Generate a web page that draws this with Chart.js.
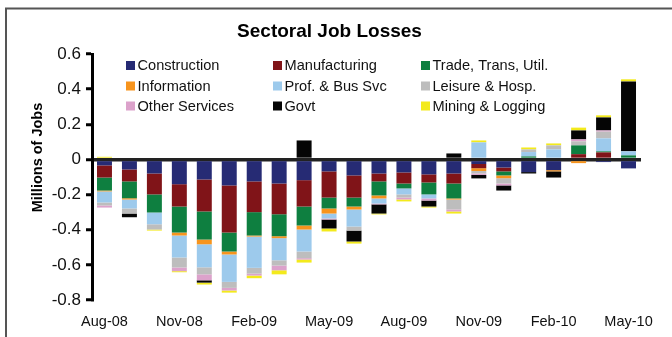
<!DOCTYPE html>
<html>
<head>
<meta charset="utf-8">
<script src="https://cdn.jsdelivr.net/npm/chart.js@4.4.1/dist/chart.umd.min.js"></script>
<style>
  html, body { margin: 0; padding: 0; background: #fff; }
  #wrap { position: relative; width: 672px; height: 337px; }
  canvas { display: block; }
</style>
</head>
<body>
<div id="wrap"><canvas id="c" width="672" height="337"></canvas></div>
<script>
// Monthly change in payroll employment by sector, millions of jobs
const months = ['Aug-08', 'Sep-08', 'Oct-08', 'Nov-08', 'Dec-08', 'Jan-09', 'Feb-09', 'Mar-09',
  'Apr-09', 'May-09', 'Jun-09', 'Jul-09', 'Aug-09', 'Sep-09', 'Oct-09', 'Nov-09', 'Dec-09',
  'Jan-10', 'Feb-10', 'Mar-10', 'Apr-10', 'May-10'];

const construction  = [-0.034, -0.057, -0.080, -0.141, -0.114, -0.148, -0.125, -0.137, -0.118, -0.068, -0.091, -0.080, -0.074, -0.085, -0.080, -0.026, -0.046, -0.072, -0.061, 0, -0.015, -0.051];
const manufacturing = [-0.069, -0.068, -0.119, -0.127, -0.182, -0.268, -0.175, -0.175, -0.150, -0.149, -0.126, -0.045, -0.063, -0.046, -0.057, -0.024, -0.022, 0, 0, 0.030, 0.040, 0];
const tradeTransUtil = [-0.074, -0.096, -0.103, -0.148, -0.160, -0.108, -0.133, -0.125, -0.108, -0.062, -0.051, -0.080, -0.028, -0.068, -0.085, 0, -0.023, 0.017, 0, 0.050, 0.006, 0.023];
const information   = [-0.005, -0.007, 0, -0.017, -0.027, -0.017, -0.006, -0.011, -0.023, -0.029, -0.017, -0.017, 0, 0, -0.006, -0.016, -0.016, 0, -0.007, -0.021, 0, 0];
const profBusSvc    = [-0.063, -0.051, -0.067, -0.125, -0.131, -0.156, -0.178, -0.126, -0.125, -0.028, -0.097, -0.029, -0.034, -0.023, 0, 0.097, 0, 0.025, 0.057, 0, 0.074, 0.023];
const leisureHosp   = [-0.017, -0.029, -0.030, -0.057, -0.040, -0.034, -0.033, -0.030, -0.038, 0, -0.023, 0, -0.018, 0, -0.057, -0.014, -0.030, 0.015, 0.023, 0.023, 0.038, 0];
const otherServices = [-0.012, 0, 0, -0.021, -0.034, -0.015, -0.011, -0.027, -0.008, -0.006, 0, -0.005, -0.011, -0.012, -0.011, -0.008, -0.011, 0, 0, 0.011, 0.007, 0];
const govt          = [0, -0.021, 0, 0, -0.013, 0, 0, 0, 0.108, -0.051, -0.062, -0.052, 0, -0.034, 0.034, -0.020, -0.029, -0.008, -0.035, 0.051, 0.074, 0.398];
const miningLogging = [0.015, 0, -0.006, -0.006, -0.011, -0.012, -0.015, -0.023, -0.017, -0.017, -0.012, -0.005, -0.011, -0.006, -0.012, 0.011, 0, 0.011, 0.011, 0.016, 0.012, 0.012];

const seriesNames = ['Construction', 'Manufacturing', 'Trade, Trans, Util.', 'Information',
  'Prof. & Bus Svc', 'Leisure & Hosp.', 'Other Services', 'Govt', 'Mining & Logging'];
const seriesData = [construction, manufacturing, tradeTransUtil, information,
  profBusSvc, leisureHosp, otherServices, govt, miningLogging];
const seriesColors = ['#262B74', '#801418', '#0E7F40', '#F7941D', '#9DCAEC',
  '#BDBDBD', '#DCA2CB', '#050505', '#F3EA1C'];

const yTicks = [-0.8, -0.6, -0.4, -0.2, 0, 0.2, 0.4, 0.6];

const FONT = '"Liberation Sans", Arial, Helvetica, sans-serif';

// Frame, title, axis title and three-column legend
const decorations = {
  id: 'decorations',
  beforeDraw(chart) {
    const ctx = chart.ctx;
    ctx.save();
    ctx.fillStyle = '#fff';
    ctx.fillRect(0, 0, chart.width, chart.height);
    ctx.strokeStyle = '#555';
    ctx.lineWidth = 2;
    ctx.beginPath();
    ctx.moveTo(6, chart.height);
    ctx.lineTo(6, 8.5);
    ctx.lineTo(chart.width, 8.5);
    ctx.stroke();
    ctx.restore();
  },
  afterDraw(chart) {
    const ctx = chart.ctx;
    ctx.save();
    ctx.fillStyle = '#000';
    ctx.font = 'bold 19px ' + FONT;
    ctx.textAlign = 'center';
    ctx.textBaseline = 'alphabetic';
    ctx.fillText('Sectoral Job Losses', 329.5, 36.5);

    ctx.save();
    ctx.translate(42, 157.5);
    ctx.rotate(-Math.PI / 2);
    ctx.font = 'bold 14.5px ' + FONT;
    ctx.fillText('Millions of Jobs', 0, 0);
    ctx.restore();

    const colX = [126, 273, 421];
    const rowY = [65.5, 86, 106];
    ctx.font = '14.6px ' + FONT;
    ctx.textAlign = 'left';
    ctx.textBaseline = 'middle';
    chart.data.datasets.forEach((ds, i) => {
      const x = colX[i % 3];
      const y = rowY[Math.floor(i / 3)];
      ctx.fillStyle = ds.backgroundColor;
      ctx.fillRect(x, y - 4.5, 9, 9);
      ctx.fillStyle = '#111';
      ctx.fillText(ds.label, x + 11.5, y + 0.5);
    });
    ctx.restore();
  }
};

new Chart(document.getElementById('c'), {
  type: 'bar',
  data: {
    labels: months,
    datasets: seriesNames.map((name, i) => ({
      label: name,
      data: seriesData[i],
      backgroundColor: seriesColors[i],
      borderWidth: 0,
      barPercentage: 0.6,
      categoryPercentage: 1.0
    }))
  },
  options: {
    responsive: false,
    devicePixelRatio: 1,
    animation: false,
    layout: { padding: { top: 54, right: 31, bottom: 0, left: 0 } },
    plugins: {
      legend: { display: false },
      title: { display: false },
      tooltip: { enabled: false }
    },
    scales: {
      x: {
        stacked: true,
        grid: { display: false, drawTicks: false },
        border: { display: false },
        ticks: {
          autoSkip: false,
          maxRotation: 0,
          minRotation: 0,
          padding: 13,
          color: '#111',
          font: { family: FONT, size: 14.5 },
          callback: (v, i) => (i % 3 === 0 ? months[i] : '')
        },
        afterFit: (s) => { s.height = 37; }
      },
      y: {
        stacked: true,
        min: -0.8,
        max: 0.6,
        z: 1,
        afterBuildTicks: (s) => { s.ticks = yTicks.map(v => ({ value: v })); },
        ticks: {
          padding: 5,
          color: '#111',
          font: { family: FONT, size: 17 },
          callback: (v) => (Math.abs(v) < 1e-9 ? '0' : String(Math.round(v * 10) / 10))
        },
        grid: {
          drawOnChartArea: true,
          color: (c) => (c.tick && Math.abs(c.tick.value) < 1e-9 ? '#222' : 'rgba(0,0,0,0)'),
          lineWidth: 3.5,
          tickColor: '#000',
          tickWidth: 3,
          tickLength: 6
        },
        border: { display: true, color: '#000', width: 3 },
        afterFit: (s) => { s.width = 92; }
      }
    }
  },
  plugins: [decorations]
});
</script>
</body>
</html>
